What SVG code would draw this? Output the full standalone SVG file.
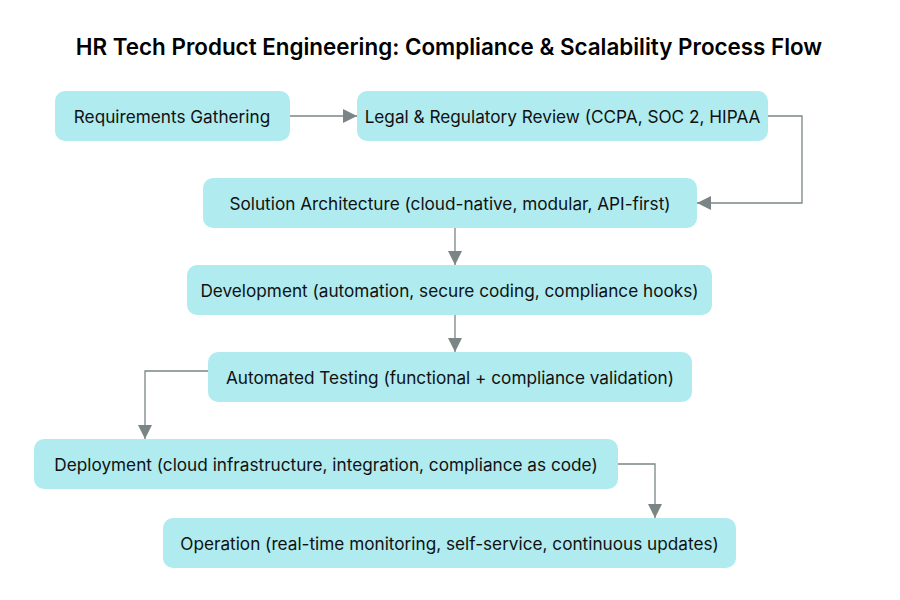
<svg xmlns="http://www.w3.org/2000/svg" width="900" height="600" viewBox="0 0 900 600">
<defs>
<style>
.box{fill:#afebef;}
.lbl{font-family:Inter,"Liberation Sans",sans-serif;font-size:17.2px;fill:#111;text-anchor:middle;dominant-baseline:central;}
.title{font-family:Inter,"Liberation Sans",sans-serif;font-size:22.4px;font-weight:600;fill:#000;text-anchor:middle;}
.edge{fill:none;stroke:#7b8585;stroke-width:1.3;}
</style>
<marker id="ah" viewBox="0 0 10 10" refX="10" refY="5" markerWidth="14" markerHeight="14" markerUnits="userSpaceOnUse" orient="auto">
<path d="M0,0 L10,5 L0,10 Z" fill="#7b8585"/>
</marker>
</defs>
<rect width="900" height="600" fill="#fff"/>
<text class="title" x="449" y="55">HR Tech Product Engineering: Compliance &amp; Scalability Process Flow</text>
<g id="connectors">
<path class="edge" d="M290,116 H357" marker-end="url(#ah)"/>
<path class="edge" d="M768,116 H802 V203 H697" marker-end="url(#ah)"/>
<path class="edge" d="M455,228 V265" marker-end="url(#ah)"/>
<path class="edge" d="M455,315 V352" marker-end="url(#ah)"/>
<path class="edge" d="M208,371 H145 V439" marker-end="url(#ah)"/>
<path class="edge" d="M618,464 H655 V518" marker-end="url(#ah)"/>
</g>
<g id="n1"><rect class="box" x="55" y="91" width="235" height="50" rx="10"/><text class="lbl" x="172" y="116">Requirements Gathering</text></g>
<g id="n2"><rect class="box" x="357" y="91" width="411" height="50" rx="10"/><text class="lbl" x="562.5" y="116">Legal &amp; Regulatory Review (CCPA, SOC 2, HIPAA</text></g>
<g id="n3"><rect class="box" x="203" y="178" width="494" height="50" rx="10"/><text class="lbl" x="450" y="203">Solution Architecture (cloud-native, modular, API-first)</text></g>
<g id="n4"><rect class="box" x="187" y="265" width="525" height="50" rx="10"/><text class="lbl" x="449.5" y="290">Development (automation, secure coding, compliance hooks)</text></g>
<g id="n5"><rect class="box" x="208" y="352" width="484" height="50" rx="10"/><text class="lbl" x="450" y="377">Automated Testing (functional + compliance validation)</text></g>
<g id="n6"><rect class="box" x="34" y="439" width="584" height="50" rx="10"/><text class="lbl" x="326" y="464">Deployment (cloud infrastructure, integration, compliance as code)</text></g>
<g id="n7"><rect class="box" x="163" y="518" width="573" height="50" rx="10"/><text class="lbl" x="449.5" y="543">Operation (real-time monitoring, self-service, continuous updates)</text></g>
</svg>
